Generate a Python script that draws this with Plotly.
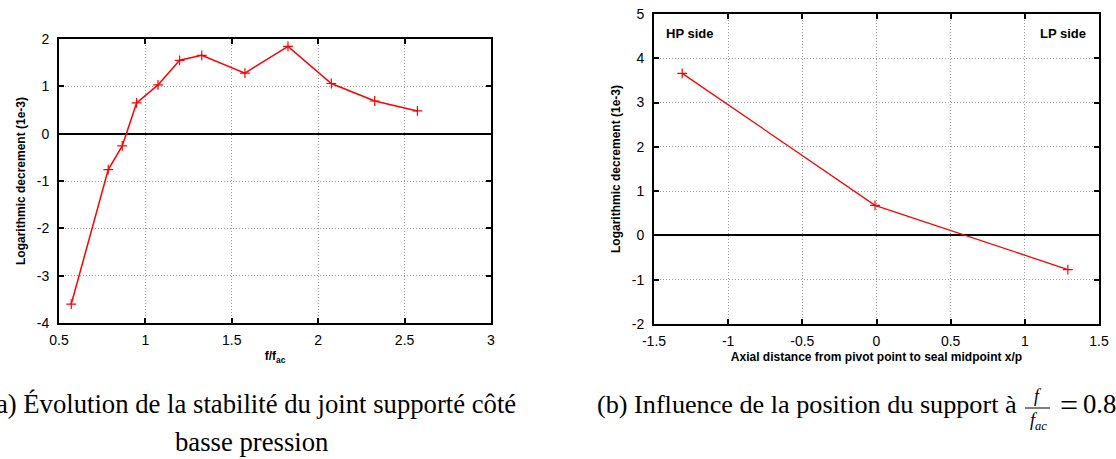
import plotly.graph_objects as go

W, H = 1116, 459

# Data (a): stability vs frequency ratio
f_ratio = [0.571, 0.785, 0.866, 0.949, 1.073, 1.198, 1.326, 1.576, 1.825, 2.076, 2.327, 2.574]
log_dec_a = [-3.60, -0.76, -0.26, 0.65, 1.03, 1.55, 1.655, 1.28, 1.845, 1.06, 0.69, 0.48]

# Data (b): influence of support position
x_pos = [-1.31, -0.01, 1.29]
log_dec_b = [3.66, 0.68, -0.77]

xa_ticks = [0.5, 1, 1.5, 2, 2.5, 3]
ya_ticks = [-4, -3, -2, -1, 0, 1, 2]
xb_ticks = [-1.5, -1, -0.5, 0, 0.5, 1, 1.5]
yb_ticks = [-2, -1, 0, 1, 2, 3, 4, 5]


def px(x):
    return x / W


def py(y):
    return 1 - y / H


def lab(v):
    return ("%g" % v).replace("\u2212", "-")


fig = go.Figure()

marker = dict(symbol="cross-thin-open", size=7, line=dict(color="#ff0000", width=1.2))

fig.add_trace(go.Scatter(x=f_ratio, y=log_dec_a, mode="lines+markers",
                         line=dict(color="#ff0000", width=1.5), marker=marker,
                         xaxis="x", yaxis="y", showlegend=False))
fig.add_trace(go.Scatter(x=x_pos, y=log_dec_b, mode="lines+markers",
                         line=dict(color="#ff0000", width=1.3), marker=marker,
                         xaxis="x2", yaxis="y2", showlegend=False))

tickfont = dict(family="Liberation Sans, Arial, sans-serif", size=14, color="#000")
titlefont = dict(family="Liberation Sans, Arial, sans-serif", size=12, color="#000")

common = dict(showline=True, linecolor="#000", linewidth=2, mirror="ticks",
              ticks="inside", ticklen=5, tickwidth=1.5, tickcolor="#000",
              showgrid=True, gridcolor="#9a9a9a", griddash="1px,2px", gridwidth=1,
              tickfont=tickfont, automargin=False)

fig.update_layout(
    width=W, height=H,
    margin=dict(l=0, r=0, t=0, b=0),
    paper_bgcolor="white", plot_bgcolor="white",
    xaxis=dict(domain=[px(59), px(491)], range=[0.5, 3], tickvals=xa_ticks,
               ticktext=[lab(t) for t in xa_ticks], zeroline=False,
               title=dict(text="<b>f/f<sub>ac</sub></b>", font=titlefont, standoff=5),
               anchor="y", ticklabelstandoff=3, **common),
    yaxis=dict(domain=[py(323), py(39)], range=[-4, 2], tickvals=ya_ticks,
               ticktext=[lab(t) for t in ya_ticks],
               zeroline=True, zerolinecolor="#000", zerolinewidth=2,
               title=dict(text="<b>Logarithmic decrement (1e-3)</b>", font=titlefont, standoff=9),
               anchor="x", ticklabelstandoff=5, **common),
    xaxis2=dict(domain=[px(654), px(1099)], range=[-1.5, 1.5], tickvals=xb_ticks,
                ticktext=[lab(t) for t in xb_ticks], zeroline=False,
                title=dict(text="<b>Axial distance from pivot point to seal midpoint x/p</b>",
                           font=titlefont, standoff=5),
                anchor="y2", ticklabelstandoff=3, **common),
    yaxis2=dict(domain=[py(324), py(14)], range=[-2, 5], tickvals=yb_ticks,
                ticktext=[lab(t) for t in yb_ticks],
                zeroline=True, zerolinecolor="#000", zerolinewidth=2,
                title=dict(text="<b>Logarithmic decrement (1e-3)</b>", font=titlefont, standoff=9),
                anchor="x2", ticklabelstandoff=5, **common),
)

labfont = dict(family="Liberation Sans, Arial, sans-serif", size=13, color="#000")
fig.add_annotation(x=-1.5, y=4.55, xref="x2", yref="y2", text="<b>HP side</b>",
                   showarrow=False, xanchor="left", xshift=10, font=labfont)
fig.add_annotation(x=1.5, y=4.55, xref="x2", yref="y2", text="<b>LP side</b>",
                   showarrow=False, xanchor="right", xshift=-11, font=labfont)

serif = "Liberation Serif, Times New Roman, serif"
capfont = dict(family=serif, size=26.7, color="#000")
capfont_b = dict(family=serif, size=26.2, color="#000")
fig.add_annotation(x=px(251), y=py(404), xref="paper", yref="paper",
                   text="(a) Évolution de la stabilité du joint supporté côté",
                   showarrow=False, xanchor="center", yanchor="middle", font=capfont)
fig.add_annotation(x=px(251), y=py(442), xref="paper", yref="paper",
                   text="basse pression",
                   showarrow=False, xanchor="center", yanchor="middle", font=capfont)
fig.add_annotation(x=px(595), y=py(404), xref="paper", yref="paper",
                   text="(b) Influence de la position du support à",
                   showarrow=False, xanchor="left", yanchor="middle", font=capfont_b)
fracfont = dict(family=serif, size=18, color="#000")
fig.add_annotation(x=px(1038), y=py(396), xref="paper", yref="paper",
                   text="<i>f</i>", showarrow=False, xanchor="center", yanchor="middle",
                   font=fracfont)
fig.add_annotation(x=px(1038), y=py(421), xref="paper", yref="paper",
                   text="<i>f<sub>ac</sub></i>", showarrow=False, xanchor="center",
                   yanchor="middle", font=fracfont)
fig.add_shape(type="line", xref="paper", yref="paper",
              x0=px(1025), x1=px(1050), y0=py(408), y1=py(408),
              line=dict(color="#000", width=1))
fig.add_annotation(x=px(1069), y=py(405), xref="paper", yref="paper",
                   text="=", showarrow=False, xanchor="center", yanchor="middle",
                   font=dict(family=serif, size=32, color="#000"))
fig.add_annotation(x=px(1081), y=py(404), xref="paper", yref="paper",
                   text="0.8", showarrow=False, xanchor="left", yanchor="middle",
                   font=capfont)

fig.write_html("out.html", config={"displayModeBar": False},
               post_script="document.body.style.margin='0px';")
